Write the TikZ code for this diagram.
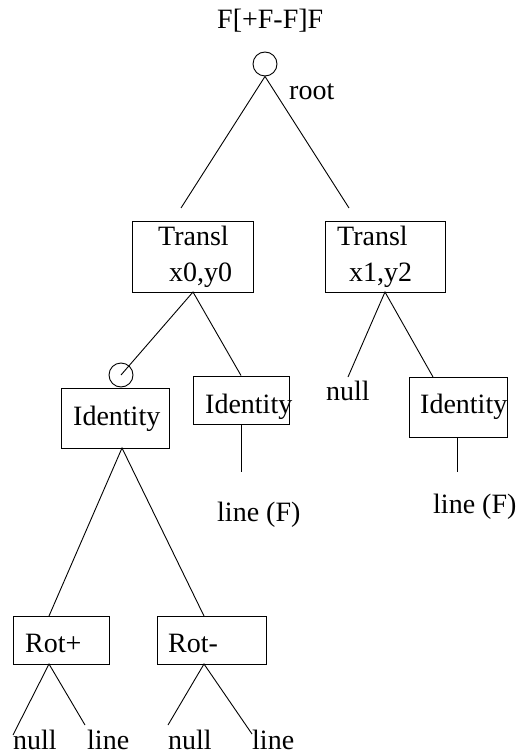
\documentclass[tikz,border=0pt]{standalone}
\usepackage{fontspec}
\setmainfont{Liberation Serif}
\begin{document}
\begin{tikzpicture}[x=1pt,y=-1pt,
  font=\fontsize{28}{34}\selectfont,
  txt/.style={anchor=base west, inner sep=0pt},
  box/.style={draw, line width=1pt, inner sep=0pt},
  circ/.style={draw, circle, inner sep=0pt, minimum size=24pt, line width=0.9pt},
  conn/.style={line width=0.9pt}]
\useasboundingbox (0,0) rectangle (518,754);

% title and root
\node[txt] (title) at (217,29) {F[+F-F]F};
\node[circ] (root) at (265,64) {};
\node[txt] (rootlbl) at (289,100) {root};

% Transl boxes
\node[box, minimum width=121pt, minimum height=71pt] (tl) at (192.5,256.5) {};
\node[txt] (tlA) at (158,245) {Transl};
\node[txt] (tlB) at (169,281) {x0,y0};
\node[box, minimum width=120pt, minimum height=71pt] (tr) at (385,256.5) {};
\node[txt] (trA) at (337,245) {Transl};
\node[txt] (trB) at (349,281) {x1,y2};

% second level
\node[circ] (c2) at (121,375) {};
\node[box, minimum width=108pt, minimum height=60pt] (idl) at (115,418) {};
\node[txt] (idlT) at (73,425) {Identity};
\node[box, minimum width=96pt, minimum height=48pt] (idm) at (241,400) {};
\node[txt] (idmT) at (205,413) {Identity};
\node[txt] (nullR) at (326,400) {null};
\node[box, minimum width=98pt, minimum height=60pt] (idr) at (458,407) {};
\node[txt] (idrT) at (420,413) {Identity};
\node[txt] (lineM) at (217,521) {line (F)};
\node[txt] (lineR) at (433,513) {line (F)};

% third level
\node[box, minimum width=96pt, minimum height=48pt] (rp) at (61,640) {};
\node[txt] (rpT) at (25,652) {Rot+};
\node[box, minimum width=109pt, minimum height=48pt] (rm) at (211.5,640) {};
\node[txt] (rmT) at (168,652) {Rot-};
\node[txt] (n1) at (13,749) {null};
\node[txt] (l1) at (87,749) {line};
\node[txt] (n2) at (168,749) {null};
\node[txt] (l2) at (252,749) {line};

% connector end points
\coordinate (e1) at (181,208);
\coordinate (e2) at (349,208);
\coordinate (tlb) at (193,292);
\coordinate (trb) at (385,292);
\coordinate (nullTop) at (348,377);
\coordinate (idrTop) at (433,377);
\coordinate (idmEnd) at (241,472);
\coordinate (idrEnd) at (457,472);
\coordinate (idrBot) at (457,437);
\coordinate (idlBot) at (122,448);
\coordinate (rpTop) at (49,616);
\coordinate (rmTop) at (204,616);
\coordinate (rpBot) at (49,664);
\coordinate (rmBot) at (204,664);
\coordinate (n1e) at (13,735);
\coordinate (l1e) at (85,725);
\coordinate (n2e) at (168,725);
\coordinate (l2e) at (252,734);

\draw[conn] (e1) -- (root.south) -- (e2);
\draw[conn] (c2.center) -- (tlb) -- (idm.north);
\draw[conn] (nullTop) -- (trb) -- (idrTop);
\draw[conn] (idm.south) -- (idmEnd);
\draw[conn] (idrBot) -- (idrEnd);
\draw[conn] (rpTop) -- (idlBot) -- (rmTop);
\draw[conn] (n1e) -- (rpBot) -- (l1e);
\draw[conn] (n2e) -- (rmBot) -- (l2e);
\end{tikzpicture}
\end{document}
